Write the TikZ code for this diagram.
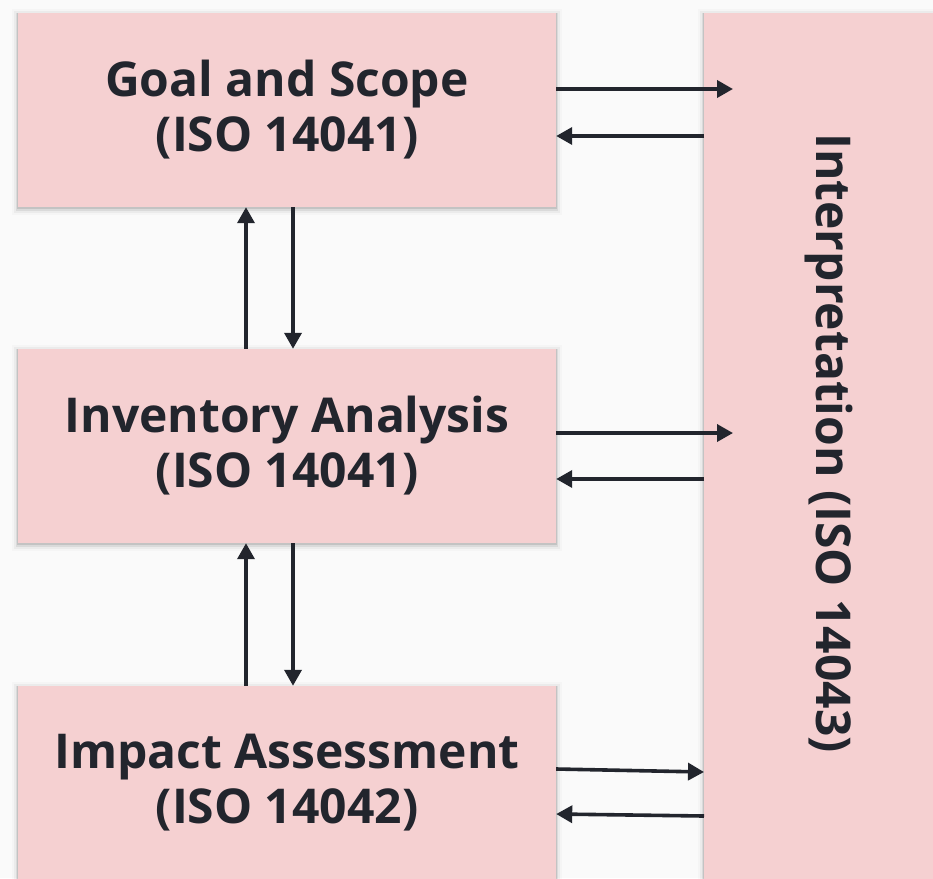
\documentclass[tikz,border=0pt]{standalone}
\usepackage{fontspec}
\setmainfont{Open Sans}
\usetikzlibrary{arrows.meta,calc}
\definecolor{bg}{HTML}{FAFAFA}
\definecolor{boxfill}{HTML}{F5D0D1}
\definecolor{ink}{HTML}{22252D}
\tikzset{
  label/.style={font=\fontsize{48}{55}\selectfont\bfseries, text=ink},
  stage/.style={
    fill=boxfill, inner sep=0pt,
    minimum width=538pt, minimum height=194pt,
    label, align=center,
    preaction={draw=black,line width=12pt,opacity=.02,transform canvas={yshift=-2pt}},
    preaction={draw=black,line width=8pt,opacity=.04,transform canvas={yshift=-2pt}},
    preaction={draw=black,line width=4pt,opacity=.07,transform canvas={yshift=-2pt}},
    preaction={draw=black,line width=1.5pt,opacity=.10,transform canvas={yshift=-1pt}}
  },
  arr/.style={draw=ink, line width=3.6pt, -{Triangle[length=16pt,width=17pt]}}
}
\begin{document}
\begin{tikzpicture}[x=1pt,y=-1pt]
  \fill[bg] (0,0) rectangle (933,878);
  \useasboundingbox (0,0) rectangle (933,878);

  % interpretation column on the right
  \node[stage, anchor=north west, minimum width=256pt, minimum height=890pt] (interp) at (704,13) {};
  \node[rotate=-90, label] (interplabel) at (829,443) {Interpretation (ISO 14043)};

  % the three phases on the left
  \node[stage] (goal) at (287,110) {Goal and Scope\\(ISO 14041)};
  \node[stage] (inv)  at (287,446) {Inventory Analysis\\(ISO 14041)};
  \node[stage] (imp)  at (287,783) {Impact Assessment\\(ISO 14042)};

  % vertical links between phases
  \draw[arr] ($(goal.south)+(6,0)$) -- ($(inv.north)+(6,0)$);
  \draw[arr] ($(inv.north)+(-41,0)$) -- ($(goal.south)+(-41,0)$);
  \draw[arr] ($(inv.south)+(6,0)$) -- ($(imp.north)+(6,0)$);
  \draw[arr] ($(imp.north)+(-41,0)$) -- ($(inv.south)+(-41,0)$);

  % links to and from interpretation
  \draw[arr] ($(goal.east)+(0,-21)$) -- ($(interp.west |- goal.east)+(29,-21)$);
  \draw[arr] ($(interp.west |- goal.east)+(0,26)$) -- ($(goal.east)+(0,26)$);
  \draw[arr] ($(inv.east)+(0,-13)$) -- ($(interp.west |- inv.east)+(29,-13)$);
  \draw[arr] ($(interp.west |- inv.east)+(0,33)$) -- ($(inv.east)+(0,33)$);
  \draw[arr] ($(imp.east)+(0,-14)$) -- ($(interp.west |- imp.east)+(0,-11)$);
  \draw[arr] ($(interp.west |- imp.east)+(0,33)$) -- ($(imp.east)+(0,31)$);
\end{tikzpicture}
\end{document}
